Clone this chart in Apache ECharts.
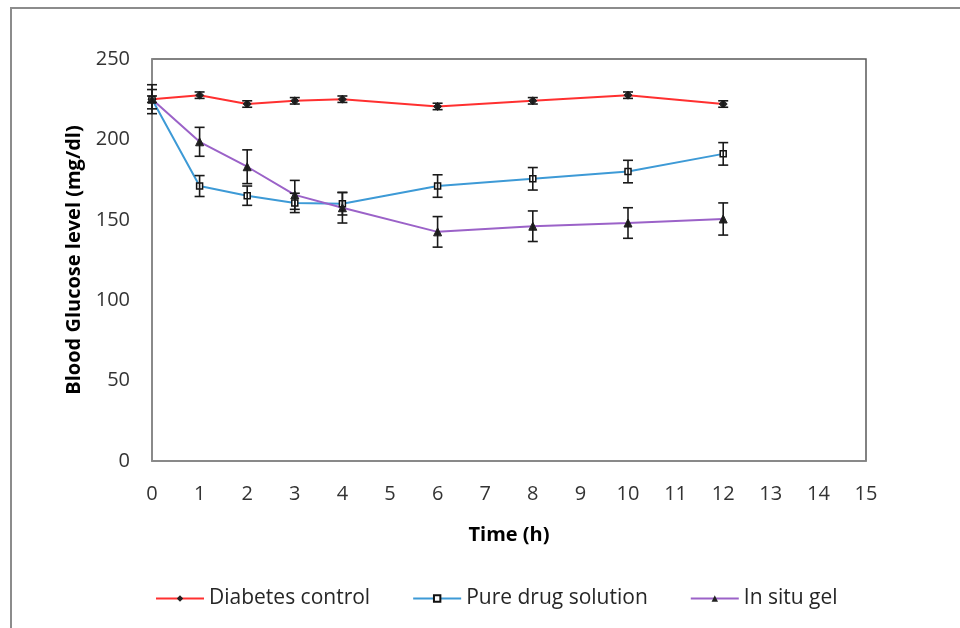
<!DOCTYPE html>
<html>
<head>
<meta charset="utf-8">
<script src="https://cdn.jsdelivr.net/npm/echarts@6/dist/echarts.min.js"></script>
<style>
  html, body { margin: 0; padding: 0; background: #fff; }
  #main { width: 960px; height: 628px; }
</style>
</head>
<body>
<div id="main"></div>
<script>
// time points (h)
let times = [0, 1, 2, 3, 4, 6, 8, 10, 12];
// blood glucose (mg/dl) and error (SD) per series
let controlMean = [225, 227.5, 222, 224, 225, 220.5, 224, 227.5, 222];
let controlErr  = [2, 2, 2, 2, 2, 2, 2, 2, 2];
let pureMean = [225, 171, 165, 160.5, 160, 171, 175.5, 180, 191];
let pureErr  = [6, 6.5, 6, 6, 7, 7, 7, 7, 7];
let gelMean = [225, 198.5, 183, 165.5, 157.5, 142.5, 146, 148, 150.5];
let gelErr  = [9, 9, 10.5, 9, 9.5, 9.5, 9.5, 9.5, 10];

let names = ['Diabetes control', 'Pure drug solution', 'In situ gel'];
let colors = ['#ff3030', '#3d9ad6', '#9b62c8'];

function pairs(means) {
    return times.map((t, i) => [t, means[i]]);
}
function bars(means, errs) {
    return times.map((t, i) => [t, means[i] - errs[i], means[i] + errs[i]]);
}

function renderErr(params, api) {
    let x = api.value(0);
    let lo = api.coord([x, api.value(1)]);
    let hi = api.coord([x, api.value(2)]);
    let w = 5;
    let st = { stroke: '#1a1a1a', lineWidth: 1.6 };
    return {
        type: 'group',
        children: [
            { type: 'line', shape: { x1: lo[0], y1: lo[1], x2: hi[0], y2: hi[1] }, style: st },
            { type: 'line', shape: { x1: lo[0] - w, y1: lo[1], x2: lo[0] + w, y2: lo[1] }, style: st },
            { type: 'line', shape: { x1: hi[0] - w, y1: hi[1], x2: hi[0] + w, y2: hi[1] }, style: st }
        ]
    };
}

let font = 'Open Sans, Noto Sans, sans-serif';

let myChart = echarts.init(document.getElementById('main'));
let option = {
    backgroundColor: '#fff',
    animation: false,
    graphic: [{
        type: 'rect',
        shape: { x: 11, y: 8, width: 970, height: 640 },
        style: { fill: 'none', stroke: '#8c8c8c', lineWidth: 2 },
        silent: true
    }],
    legend: {
        data: names,
        bottom: 14,
        left: 150,
        itemWidth: 48,
        itemHeight: 8,
        itemGap: 42,
        textStyle: { fontFamily: font, fontSize: 21, color: '#262626' }
    },
    grid: {
        left: 152,
        right: 94,
        top: 59,
        bottom: 167,
        show: true,
        borderColor: '#595959',
        borderWidth: 1.5
    },
    xAxis: {
        type: 'value',
        min: 0,
        max: 15,
        interval: 1,
        name: 'Time (h)',
        nameLocation: 'middle',
        nameGap: 64,
        nameTextStyle: { fontFamily: font, fontSize: 20, fontWeight: 'bold', color: '#000' },
        axisLine: { lineStyle: { color: '#8c8c8c', width: 1.5 } },
        axisTick: { show: false },
        splitLine: { show: false },
        axisLabel: { margin: 23, fontFamily: font, fontSize: 20, color: '#333' }
    },
    yAxis: {
        type: 'value',
        min: 0,
        max: 250,
        interval: 50,
        name: 'Blood Glucose level (mg/dl)',
        nameLocation: 'middle',
        nameGap: 68,
        nameTextStyle: { fontFamily: font, fontSize: 20, fontWeight: 'bold', color: '#000' },
        axisLine: { show: true, lineStyle: { color: '#8c8c8c', width: 1.5 } },
        axisTick: { show: false },
        splitLine: { show: false },
        axisLabel: { margin: 22, fontFamily: font, fontSize: 20, color: '#333' }
    },
    series: [{
        name: names[0],
        type: 'line',
        data: pairs(controlMean),
        color: colors[0],
        lineStyle: { width: 2, color: colors[0] },
        symbol: 'diamond',
        symbolSize: 8,
        itemStyle: { color: '#222', borderColor: '#222' },
        z: 3
    }, {
        name: names[1],
        type: 'line',
        data: pairs(pureMean),
        color: colors[1],
        lineStyle: { width: 2, color: colors[1] },
        symbol: 'rect',
        symbolSize: 6,
        itemStyle: { color: '#fff', borderColor: '#111', borderWidth: 1.5 },
        z: 3
    }, {
        name: names[2],
        type: 'line',
        data: pairs(gelMean),
        color: colors[2],
        lineStyle: { width: 2, color: colors[2] },
        symbol: 'triangle',
        symbolSize: 8,
        itemStyle: { color: '#222', borderColor: '#222' },
        z: 3
    }, {
        type: 'custom',
        renderItem: renderErr,
        data: bars(controlMean, controlErr),
        z: 4
    }, {
        type: 'custom',
        renderItem: renderErr,
        data: bars(pureMean, pureErr),
        z: 4
    }, {
        type: 'custom',
        renderItem: renderErr,
        data: bars(gelMean, gelErr),
        z: 4
    }]
};
myChart.setOption(option);
</script>
</body>
</html>
